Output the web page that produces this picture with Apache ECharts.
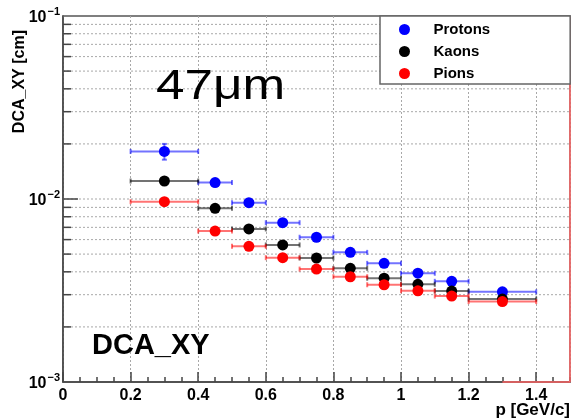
<!DOCTYPE html>
<html>
<head>
<meta charset="utf-8">
<script src="https://cdn.jsdelivr.net/npm/echarts@6/dist/echarts.min.js"></script>
<style>
  html, body { margin: 0; padding: 0; background: #fff; }
  #chart { width: 571px; height: 419px; }
</style>
</head>
<body>
<div id="chart"></div>
<script>
  // momentum bins [GeV/c]
  var binLow    = [0.2, 0.4, 0.5, 0.6, 0.7, 0.8, 0.9, 1.0, 1.1, 1.2];
  var binHigh   = [0.4, 0.5, 0.6, 0.7, 0.8, 0.9, 1.0, 1.1, 1.2, 1.4];
  var binCenter = [0.3, 0.45, 0.55, 0.65, 0.75, 0.85, 0.95, 1.05, 1.15, 1.3];

  // DCA_XY resolution [cm]
  var protons    = [0.0182, 0.0123, 0.00955, 0.00742, 0.00618, 0.00511, 0.00445, 0.00393, 0.00355, 0.00311];
  var protonsErr = [0.0018, 0.0004, 0.0003, 0.0002, 0.00015, 0.0001, 0.0001, 0.0001, 0.0001, 0.0001];
  var kaons      = [0.01254, 0.00889, 0.00686, 0.00561, 0.00476, 0.00418, 0.00369, 0.00342, 0.00314, 0.00284];
  var kaonsErr   = [0.0003, 0.0002, 0.00015, 0.0001, 0.0001, 0.0001, 0.0001, 0.0001, 0.0001, 0.0001];
  var pions      = [0.00967, 0.00668, 0.00551, 0.00478, 0.00414, 0.00376, 0.00340, 0.00315, 0.00295, 0.00275];
  var pionsErr   = [0.0002, 0.00015, 0.0001, 0.0001, 0.0001, 0.0001, 0.0001, 0.0001, 0.0001, 0.0001];

  // leftover outline of the pion histogram at the right edge
  var pionEdgeX = [1.3, 1.5, 1.5];
  var pionEdgeY = [0.001, 0.001, 0.1];

  // horizontal grid lines of the log axis (2..9 x 10^n)
  var yGrid = [0.002, 0.003, 0.004, 0.005, 0.006, 0.007, 0.008, 0.009, 0.01,
               0.02, 0.03, 0.04, 0.05, 0.06, 0.07, 0.08, 0.09];
  var yMajor = [0.001, 0.01, 0.1];

  var font = 'Liberation Sans, Arial, sans-serif';
  var axisColor = '#444';
  var gridColor = '#a8a8a8';

  function errorBars(color, values, errs) {
    return {
      type: 'custom',
      silent: true,
      z: 2,
      clip: false,
      data: values.map(function (v, i) {
        return [binLow[i], binHigh[i], binCenter[i], v, errs[i]];
      }),
      encode: { x: [0, 1, 2], y: 3 },
      renderItem: function (params, api) {
        var a = api.coord([api.value(0), api.value(3)]);
        var b = api.coord([api.value(1), api.value(3)]);
        var c = api.coord([api.value(2), api.value(3) + api.value(4)]);
        var d = api.coord([api.value(2), api.value(3) - api.value(4)]);
        var st = { stroke: color, lineWidth: 2, opacity: 0.55 };
        var cap = 2.5;
        return {
          type: 'group',
          children: [
            { type: 'line', shape: { x1: a[0], y1: a[1], x2: b[0], y2: b[1] }, style: st },
            { type: 'line', shape: { x1: a[0], y1: a[1] - cap, x2: a[0], y2: a[1] + cap }, style: st },
            { type: 'line', shape: { x1: b[0], y1: b[1] - cap, x2: b[0], y2: b[1] + cap }, style: st },
            { type: 'line', shape: { x1: c[0], y1: c[1], x2: d[0], y2: d[1] }, style: st },
            { type: 'line', shape: { x1: c[0] - cap, y1: c[1], x2: c[0] + cap, y2: c[1] }, style: st },
            { type: 'line', shape: { x1: d[0] - cap, y1: d[1], x2: d[0] + cap, y2: d[1] }, style: st }
          ]
        };
      }
    };
  }

  function points(name, color, values) {
    return {
      name: name,
      type: 'scatter',
      symbol: 'circle',
      symbolSize: 11,
      z: 3,
      itemStyle: { color: color, opacity: 1 },
      data: values.map(function (v, i) { return [binCenter[i], v]; })
    };
  }

  var chart = echarts.init(document.getElementById('chart'));

  var option = {
    animation: false,
    backgroundColor: '#fff',
    grid: {
      left: 63, top: 16, right: 1, bottom: 37,
      outerBoundsMode: 'none',
      containLabel: false,
      show: true, borderColor: '#555', borderWidth: 1.5, backgroundColor: 'transparent'
    },
    legend: {
      data: ['Protons', 'Kaons', 'Pions'],
      orient: 'vertical',
      left: 380, top: 16,
      icon: 'circle',
      itemWidth: 48, itemHeight: 11, itemGap: 7,
      padding: [6, 80, 3, 19],
      backgroundColor: '#fff',
      borderColor: '#666', borderWidth: 1.5,
      selectedMode: false,
      textStyle: { fontFamily: font, fontWeight: 'bold', fontSize: 15, color: '#000' }
    },
    xAxis: [{
      type: 'value',
      min: 0, max: 1.5, interval: 0.2,
      axisLine: { lineStyle: { color: axisColor, width: 1.5 } },
      axisTick: { inside: true, length: 10, lineStyle: { color: axisColor, width: 1.5 } },
      axisLabel: {
        fontFamily: font, fontWeight: 'bold', fontSize: 16, color: '#000', margin: 6,
        showMaxLabel: false,
        formatter: function (v) { return Math.round(v * 10) / 10 + ''; }
      },
      splitLine: { show: true, lineStyle: { color: gridColor, type: [2, 2], width: 1 } }
    }, {
      type: 'value',
      min: 0, max: 1.5, interval: 0.05,
      position: 'bottom',
      axisLine: { show: false },
      axisTick: { inside: true, length: 5, lineStyle: { color: axisColor, width: 1.5 } },
      axisLabel: { show: false },
      splitLine: { show: false }
    }],
    yAxis: {
      type: 'log',
      logBase: 10,
      min: 0.001, max: 0.1,
      name: 'DCA_XY [cm]',
      nameLocation: 'end',
      nameRotate: 90,
      nameGap: -14,
      nameTextStyle: {
        fontFamily: font, fontWeight: 'bold', fontSize: 16, color: '#000',
        align: 'right', verticalAlign: 'bottom', padding: [0, 0, 35, 0]
      },
      axisLine: { lineStyle: { color: axisColor, width: 1.5 } },
      axisTick: { show: false },
      splitLine: { show: false },
      axisLabel: {
        margin: 3,
        formatter: function (v) {
          var e = Math.round(Math.log10(v));
          return '{a|10}{b|\u2212' + Math.abs(e) + '}';
        },
        rich: {
          a: { fontFamily: font, fontWeight: 'bold', fontSize: 16, color: '#000', padding: [4, 0, 0, 0] },
          b: { fontFamily: font, fontWeight: 'bold', fontSize: 11, color: '#000', padding: [0, 0, 8, 1] }
        }
      }
    },
    graphic: [
      { type: 'text', left: 156, top: 66, z: 10, scaleX: 1.22,
        style: { text: '47\u03bcm', fontFamily: font, fontSize: 42, fill: '#000' } },
      { type: 'text', left: 92, top: 331, z: 10,
        style: { text: 'DCA_XY', fontFamily: font, fontWeight: 'bold', fontSize: 29, fill: '#000' } },
      { type: 'text', right: 1, top: 402, z: 10,
        style: { text: 'p [GeV/c]', fontFamily: font, fontWeight: 'bold', fontSize: 17, fill: '#000' } }
    ],
    series: [
      {
        type: 'custom',
        silent: true,
        z: 1,
        clip: false,
        data: yGrid,
        encode: { y: 0 },
        renderItem: function (params, api) {
          var cs = params.coordSys;
          var v = api.value(0);
          var y = api.coord([0, v])[1];
          var major = yMajor.some(function (m) { return Math.abs(m - v) < 1e-9; });
          return {
            type: 'group',
            children: [
              { type: 'line', shape: { x1: cs.x, y1: y, x2: cs.x + cs.width, y2: y },
                style: { stroke: gridColor, lineWidth: 1, lineDash: [2, 2] } },
              { type: 'line', shape: { x1: cs.x, y1: y, x2: cs.x + (major ? 15 : 8), y2: y },
                style: { stroke: axisColor, lineWidth: 1.5 } }
            ]
          };
        }
      },
      {
        type: 'line',
        silent: true,
        clip: false,
        symbol: 'none',
        z: 2,
        lineStyle: { color: '#ff6666', width: 1.5 },
        data: pionEdgeX.map(function (x, i) { return [x, pionEdgeY[i]]; })
      },
      errorBars('#0000ff', protons, protonsErr),
      errorBars('#000000', kaons, kaonsErr),
      errorBars('#ff0000', pions, pionsErr),
      points('Protons', '#0000ff', protons),
      points('Kaons', '#000000', kaons),
      points('Pions', '#ff0000', pions)
    ]
  };

  chart.setOption(option);

  window.addEventListener('resize', function () {
    chart.resize();
  });
</script>
</body>
</html>
